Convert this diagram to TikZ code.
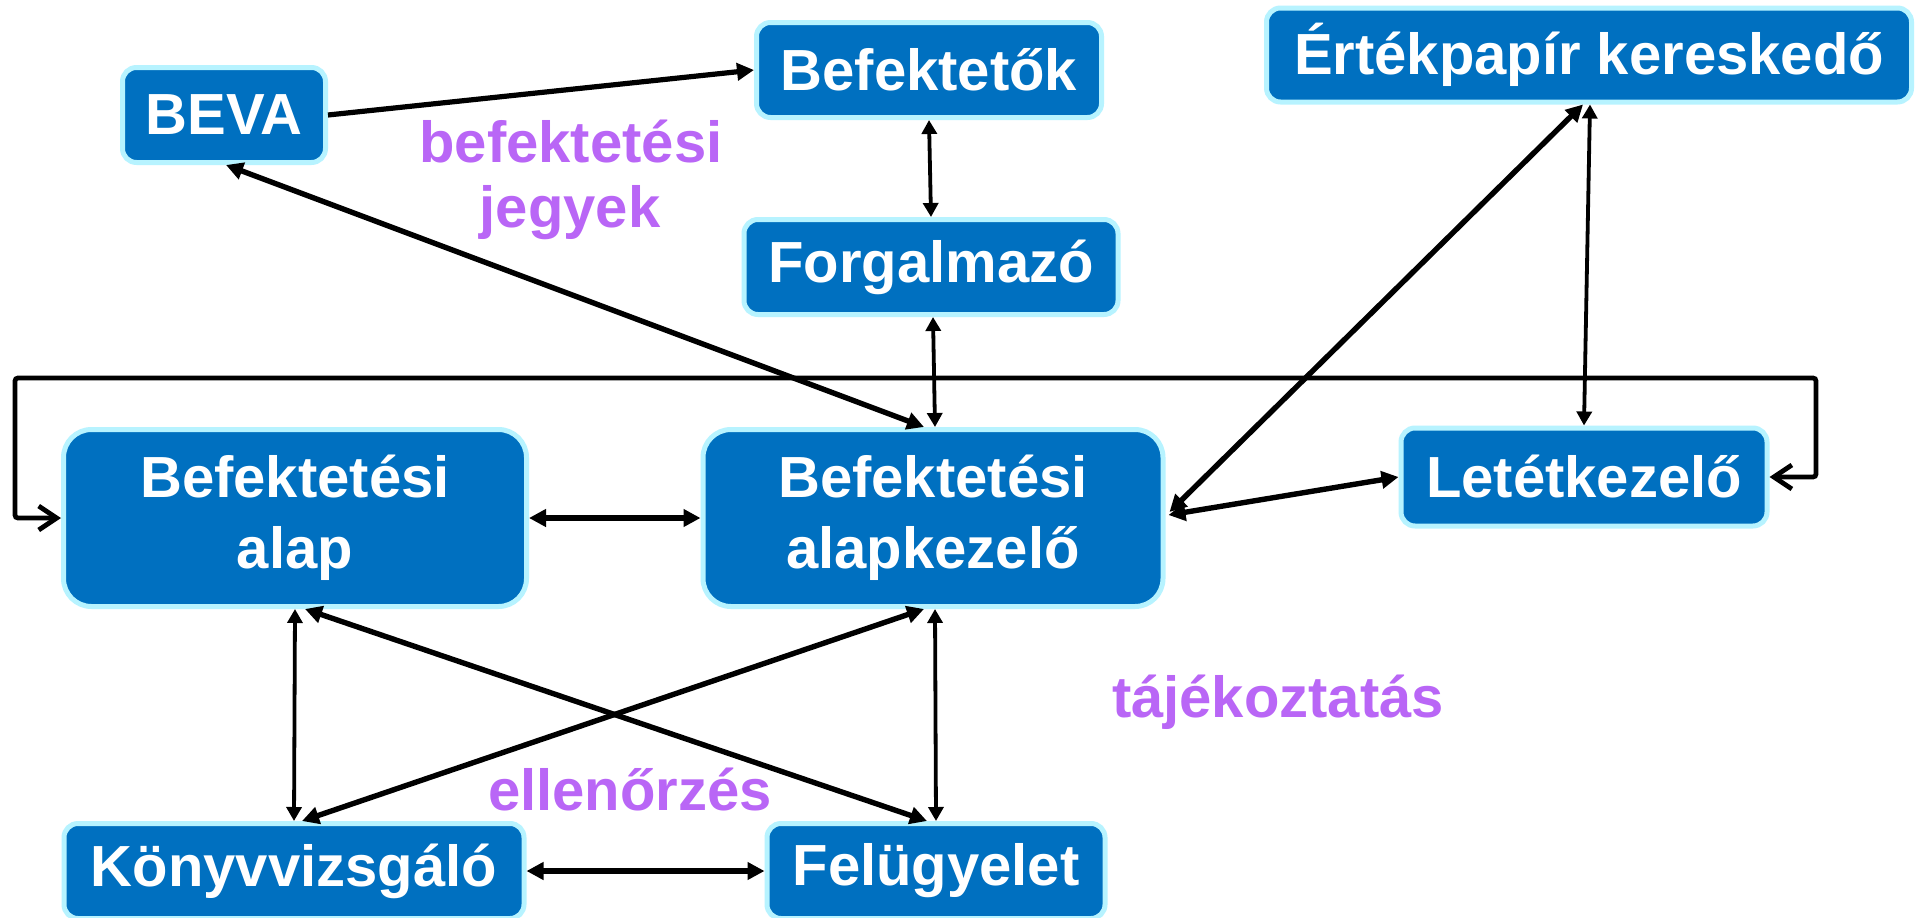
\documentclass[tikz,border=0pt]{standalone}
\usepackage{fontspec}
\setmainfont{Liberation Sans}
\usetikzlibrary{arrows.meta,calc}
\definecolor{boxblue}{RGB}{0,112,192}
\definecolor{glow}{RGB}{183,243,255}
\definecolor{lbl}{RGB}{185,102,246}
\begin{document}
\begin{tikzpicture}[x=1pt,y=-1pt,
  boxbase/.style={draw=glow,line width=5pt,fill=boxblue,text=white,
    font=\fontsize{58}{71}\selectfont\bfseries,align=center,inner sep=0pt},
  smallbox/.style={boxbase,rounded corners=14pt},
  bigbox/.style={boxbase,rounded corners=28pt},
  lbltext/.style={text=lbl,font=\fontsize{58}{71}\selectfont\bfseries,anchor=base,inner sep=0pt},
  thickarr/.style={line width=5.4pt,{Triangle[length=17pt,width=17pt]}-{Triangle[length=17pt,width=17pt]}},
  thinarr/.style={line width=3.8pt,{Triangle[length=14pt,width=15pt]}-{Triangle[length=14pt,width=15pt]}},
  onearr/.style={line width=5.2pt,-{Triangle[length=17pt,width=17pt]}},
  looparr/.style={line width=4.8pt,rounded corners=3pt,
    {Straight Barb[length=18pt,width=24pt]}-{Straight Barb[length=18pt,width=24pt]}}
]
\useasboundingbox (0,0) rectangle (1919,918);
\fill[white] (0,0) rectangle (1919,918);

% nodes
\node[smallbox,minimum width=203pt,minimum height=95pt] (beva) at (224,115) {BEVA};
\node[smallbox,minimum width=345pt,minimum height=95pt] (bef) at (929,70) {Befektetők};
\node[smallbox,minimum width=645pt,minimum height=94pt] (ert) at (1589,55) {Értékpapír kereskedő};
\node[smallbox,minimum width=374pt,minimum height=95pt] (forg) at (931,267) {Forgalmazó};
\node[bigbox,minimum width=463pt,minimum height=177pt] (alap) at (295,518) {Befektetési\\alap};
\node[bigbox,minimum width=460pt,minimum height=177pt] (kez) at (933,518) {Befektetési\\alapkezelő};
\node[smallbox,minimum width=366pt,minimum height=98pt] (let) at (1584,477) {Letétkezelő};
\node[smallbox,minimum width=460pt,minimum height=95pt] (konyv) at (294,871) {Könyvvizsgáló};
\node[smallbox,minimum width=338pt,minimum height=95pt] (fel) at (936,871) {Felügyelet};

% labels
\node[lbltext] (l1) at (571,162) {befektetési};
\node[lbltext] (l2) at (570,227) {jegyek};
\node[lbltext] (l3) at (1278,717) {tájékoztatás};
\node[lbltext] (l4) at (630,810) {ellenőrzés};

% loop
\coordinate (lr) at (1816,378);
\coordinate (ll) at (15,378);
\draw[looparr] (let.east) -| (lr) -- (ll) |- (alap.west);

% connectors
\draw[onearr] (beva.east) -- (bef.west);
\draw[thinarr] (bef.south) -- (forg.north);
\draw[thinarr] ($(forg.south)+(2,0)$) -- ($(kez.north)+(2,0)$);
\draw[thickarr] ($(beva.south)+(2,0)$) -- ($(kez.north)+(-9,0)$);
\draw[thickarr] (alap.east) -- (kez.west);
\draw[thickarr] ($(kez.east)+(3,-3)$) -- (let.west);
\draw[thickarr] ($(ert.south)+(-6,0)$) -- ($(kez.east)+(4,-6)$);
\draw[thinarr] ($(ert.south)+(1,0)$) -- (let.north);
\draw[thinarr] (alap.south) -- (konyv.north);
\draw[thickarr] ($(alap.south)+(10,0)$) -- ($(fel.north)+(-9,0)$);
\draw[thickarr] ($(kez.south)+(-9,0)$) -- ($(konyv.north)+(8,0)$);
\draw[thinarr] ($(kez.south)+(2,0)$) -- (fel.north);
\draw[thickarr] (konyv.east) -- (fel.west);
\end{tikzpicture}
\end{document}
